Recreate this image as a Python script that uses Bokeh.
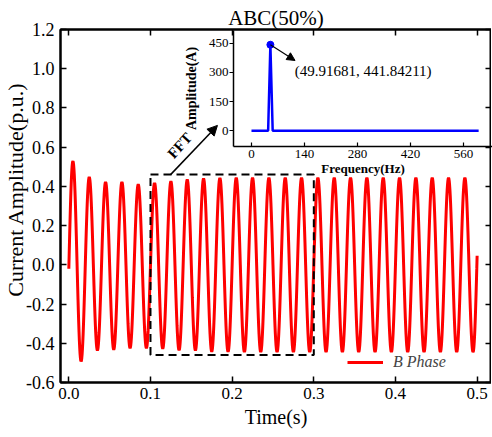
import numpy as np
from bokeh.plotting import figure
from bokeh.models import (Range1d, LinearAxis, FixedTicker, PrintfTickFormatter, CustomJSTickFormatter,
                          Arrow, NormalHead, Label, ColumnDataSource)
from bokeh.embed import file_html
from bokeh.resources import INLINE
from bokeh.core.properties import value

FONT = "Liberation Serif"

# ---------------- data ----------------
title_text = "ABC(50%)"
x_label = "Time(s)"
y_label = "Current Amplitude(p.u.)"
x_ticks = [0.0, 0.1, 0.2, 0.3, 0.4, 0.5]
y_ticks = [-0.6, -0.4, -0.2, 0.0, 0.2, 0.4, 0.6, 0.8, 1.0, 1.2]

# waveform: start value, positive peaks, negative troughs, end value
start_time, start_value = 0.0, -0.02
peak_times = [0.005, 0.025, 0.045, 0.065, 0.085, 0.105, 0.125, 0.145, 0.165, 0.185,
              0.205, 0.225, 0.245, 0.265, 0.285, 0.305, 0.325, 0.345, 0.365, 0.385,
              0.405, 0.425, 0.445, 0.465, 0.485]
peak_values = [0.528, 0.447, 0.422, 0.422, 0.410, 0.417, 0.425, 0.434, 0.439, 0.442,
               0.443, 0.443, 0.443, 0.443, 0.443, 0.443, 0.443, 0.443, 0.443, 0.443,
               0.443, 0.443, 0.443, 0.443, 0.443]
trough_times = [0.015, 0.035, 0.055, 0.075, 0.095, 0.115, 0.135, 0.155, 0.175, 0.195,
                0.215, 0.235, 0.255, 0.275, 0.295, 0.315, 0.335, 0.355, 0.375, 0.395,
                0.415, 0.435, 0.455, 0.475, 0.495]
trough_values = [-0.492, -0.436, -0.432, -0.424, -0.424, -0.427, -0.435, -0.436, -0.442, -0.443,
                 -0.444, -0.444, -0.444, -0.444, -0.444, -0.444, -0.444, -0.444, -0.444, -0.444,
                 -0.444, -0.444, -0.444, -0.444, -0.444]
end_time, end_value = 0.5, 0.046

# box around the analysed window
box_x = [0.1, 0.3, 0.3, 0.1, 0.1]
box_y = [0.46, 0.46, -0.46, -0.46, 0.46]

# FFT spectrum
fft_freq = [0.0, 44.0, 49.91681, 56.0, 600.0]
fft_amp = [0.0, 0.0, 441.84211, 0.0, 0.0]
fft_peak_f, fft_peak_a = 49.91681, 441.84211
fft_peak_text = "(49.91681, 441.84211)"
fft_x_ticks = [0, 140, 280, 420, 560]
fft_y_ticks = [0, 150, 300, 450]

# ---------------- waveform shape between the read extrema ----------------
ext_t = [start_time]
ext_v = [start_value]
for tp, vp, tt, vt in zip(peak_times, peak_values, trough_times, trough_values):
    ext_t += [tp, tt]
    ext_v += [vp, vt]
ext_t.append(end_time)
ext_v.append(end_value)

wt, wv = [], []
n_seg = len(ext_t) - 1
for i in range(n_seg):
    a, b = ext_v[i], ext_v[i + 1]
    s = np.linspace(0, 1, 24, endpoint=(i == n_seg - 1))
    if i == 0:
        shape = np.sin(np.pi * s / 2)
    elif i == n_seg - 1:
        shape = 1 - np.cos(np.pi * s / 2)
    else:
        shape = (1 - np.cos(np.pi * s)) / 2
    wt += list(ext_t[i] + (ext_t[i + 1] - ext_t[i]) * s)
    wv += list(a + (b - a) * shape)

# ---------------- main figure ----------------
p = figure(frame_width=431, frame_height=353,
           x_range=Range1d(-0.0102, 0.5176), y_range=Range1d(-0.6, 1.2),
           output_backend="svg", toolbar_location=None,
           min_border_left=60, min_border_right=0, min_border_top=29, min_border_bottom=55)
p.xgrid.visible = False
p.ygrid.visible = False
p.outline_line_color = "black"
p.outline_line_width = 2

p.title.text = title_text
p.title.align = "center"
p.title.offset = 4
p.title.standoff = 0
p.title.text_font = FONT
p.title.text_font_size = "21px"
p.title.text_font_style = "normal"
p.title.text_color = "black"

blank = CustomJSTickFormatter(code="return ''")

def style_axis(ax, ticks, labels=True, size="17px"):
    ax.ticker = FixedTicker(ticks=ticks)
    ax.axis_line_width = 2
    ax.axis_line_color = "black"
    ax.major_tick_in = 6
    ax.major_tick_out = 0
    ax.major_tick_line_width = 1.5
    ax.minor_tick_line_color = None
    ax.major_label_text_font = FONT
    ax.major_label_text_color = "black"
    ax.major_label_text_font_size = size
    if labels:
        ax.formatter = PrintfTickFormatter(format="%.1f")
        ax.major_label_standoff = 6
    else:
        ax.formatter = blank
        ax.major_label_standoff = 0

style_axis(p.xaxis[0], x_ticks)
style_axis(p.yaxis[0], y_ticks, size="18px")
p.xaxis[0].major_label_standoff = 5
p.xaxis[0].axis_label = x_label
p.xaxis[0].axis_label_standoff = 4
p.xaxis[0].axis_label_text_font_size = "20px"
p.yaxis[0].axis_label = "\u00a0" * 6 + y_label
p.yaxis[0].axis_label_standoff = -5
p.yaxis[0].axis_label_text_font_size = "22px"
for ax in (p.xaxis[0], p.yaxis[0]):
    ax.axis_label_text_font = FONT
    ax.axis_label_text_font_style = "normal"
    ax.axis_label_text_color = "black"

top_ax = LinearAxis()
style_axis(top_ax, x_ticks, labels=False)
p.add_layout(top_ax, "above")
right_ax = LinearAxis()
style_axis(right_ax, y_ticks, labels=False)
p.add_layout(right_ax, "right")

src = ColumnDataSource(dict(t=wt, v=wv))
p.line("t", "v", source=src, line_color="#ff0000", line_width=3, legend_label="B Phase")

p.line(box_x, box_y, line_color="black", line_width=2, line_dash="8 5")

p.add_layout(Arrow(x_start=0.1246, y_start=0.46, x_end=0.182, y_end=0.711,
                   line_color="black", line_width=1.5,
                   end=NormalHead(size=10, fill_color="black", line_color="black")))
p.text(x=[0.1357], y=[0.608], text=["FFT"], angle=np.deg2rad(48),
       text_font=value(FONT), text_font_size="15px", text_font_style="bold",
       text_align="center", text_baseline="middle", text_color="black")

lg = p.legend[0]
lg.location = (287, 10)
lg.border_line_color = None
lg.background_fill_alpha = 0
lg.padding = 0
lg.margin = 0
lg.glyph_width = 36
lg.label_standoff = 10
lg.label_text_font = FONT
lg.label_text_font_size = "16px"
lg.label_text_font_style = "italic"

# ---------------- inset FFT figure ----------------
inset = figure(frame_width=259, frame_height=116,
               x_range=Range1d(-47.5, 636.6), y_range=Range1d(-81, 515),
               output_backend="svg", toolbar_location=None,
               min_border_left=52, min_border_bottom=30, min_border_top=0, min_border_right=0,
               background_fill_color=None, border_fill_color=None, outline_line_color=None)
inset.styles = {"position": "absolute", "left": "179.7px", "top": "30px"}
inset.xgrid.visible = False
inset.ygrid.visible = False
for ax, ticks in ((inset.xaxis[0], fft_x_ticks), (inset.yaxis[0], fft_y_ticks)):
    ax.ticker = FixedTicker(ticks=ticks)
    ax.axis_line_width = 1.5
    ax.axis_line_color = "black"
    ax.major_tick_line_width = 1.2
    ax.minor_tick_line_color = None
    ax.major_label_text_font = FONT
    ax.major_label_text_font_size = "13px"
    ax.major_label_text_color = "black"
    ax.axis_label_text_font = FONT
    ax.axis_label_text_font_style = "bold"
    ax.axis_label_text_color = "black"
inset.xaxis[0].major_tick_in = 4
inset.xaxis[0].major_tick_out = 0
inset.xaxis[0].major_label_standoff = 3
inset.xaxis[0].axis_label_standoff = 0
inset.xaxis[0].axis_label_text_font_size = "13px"
inset.yaxis[0].major_tick_in = 0
inset.yaxis[0].major_tick_out = 4
inset.yaxis[0].major_label_standoff = 1
inset.yaxis[0].axis_label_standoff = 7
inset.yaxis[0].axis_label_text_font_size = "14px"
inset.xaxis[0].axis_label = "Frequency(Hz)"
inset.yaxis[0].axis_label = "Amplitude(A)"

inset.line(fft_freq, fft_amp, line_color="#0000ff", line_width=2.5)
inset.scatter([fft_peak_f], [fft_peak_a], size=7, color="#0000ff")
inset.add_layout(Arrow(x_start=fft_peak_f, y_start=fft_peak_a, x_end=115, y_end=361,
                       line_color="black", line_width=1.2,
                       end=NormalHead(size=8, fill_color="black", line_color="black")))
inset.add_layout(Label(x=114, y=309, text=fft_peak_text, text_font=FONT,
                       text_font_size="15px", text_baseline="middle", text_color="black"))

open("out.html", "w").write(file_html([p, inset], INLINE))
